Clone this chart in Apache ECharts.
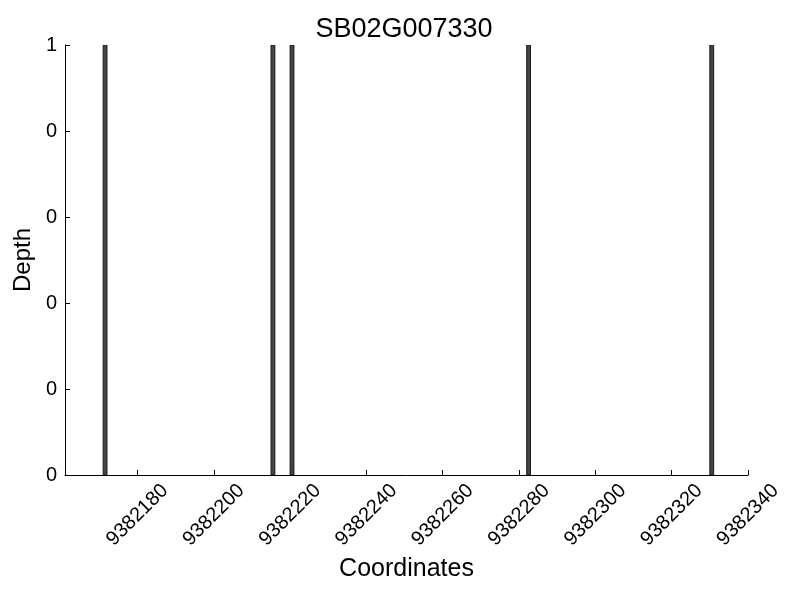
<!DOCTYPE html>
<html>
<head>
<meta charset="utf-8">
<script src="https://cdn.jsdelivr.net/npm/echarts@6/dist/echarts.min.js"></script>
<style>html,body{margin:0;padding:0;background:#fff}#c{width:800px;height:600px}</style>
</head>
<body>
<div id="c"></div>
<script>
var chartTitle = 'SB02G007330';
var positions = [9382171, 9382215, 9382220, 9382282, 9382330];
var depths = [1, 1, 1, 1, 1];
var xTicks = [9382180, 9382200, 9382220, 9382240, 9382260, 9382280, 9382300, 9382320, 9382340];
var yTicks = [0, 0.2, 0.4, 0.6, 0.8, 1];
var yTickLabels = ['0', '0', '0', '0', '0', '1'];

var FONT = '"Liberation Sans", Arial, sans-serif';
var chart = echarts.init(document.getElementById('c'), null, {renderer: 'canvas'});
var data = positions.map(function (p, i) { return [p, depths[i]]; });

chart.setOption({
  animation: false,
  backgroundColor: '#fff',
  title: {
    text: chartTitle, left: 399, top: 11, textAlign: 'center',
    textStyle: {fontFamily: FONT, fontSize: 27, fontWeight: 'normal', color: '#000'}
  },
  grid: {left: 65, right: 52, top: 45, bottom: 125, containLabel: false},
  xAxis: {
    type: 'value', min: 9382161, max: 9382340,
    name: 'Coordinates', nameLocation: 'middle', nameGap: 82,
    nameTextStyle: {fontFamily: FONT, fontSize: 25, color: '#000'},
    axisLine: {show: true, lineStyle: {color: '#000', width: 1}},
    axisTick: {show: true, inside: true, length: 5, lineStyle: {color: '#000'}, customValues: xTicks},
    axisLabel: {
      customValues: xTicks, rotate: 45, margin: 40, align: 'center', verticalAlign: 'middle',
      fontFamily: FONT, fontSize: 20, color: '#000',
      formatter: function (v) { return String(v); }
    },
    splitLine: {show: false}
  },
  yAxis: {
    type: 'value', min: 0, max: 1, interval: 0.2,
    name: 'Depth', nameLocation: 'middle', nameGap: 24, nameRotate: 90,
    nameTextStyle: {fontFamily: FONT, fontSize: 24, color: '#000'},
    axisLine: {show: true, lineStyle: {color: '#000', width: 1}},
    axisTick: {show: true, inside: true, length: 5, lineStyle: {color: '#000'}},
    axisLabel: {
      fontFamily: FONT, fontSize: 20, color: '#000', margin: 8,
      formatter: function (v) {
        for (var i = 0; i < yTicks.length; i++) if (Math.abs(yTicks[i] - v) < 1e-9) return yTickLabels[i];
        return '';
      }
    },
    splitLine: {show: false}
  },
  series: [{
    type: 'custom',
    data: data,
    clip: true,
    renderItem: function (params, api) {
      var x0 = api.value(0), y = api.value(1);
      var p0 = api.coord([x0, y]);
      var p1 = api.coord([x0 + 1, 0]);
      return {
        type: 'rect',
        shape: {x: p0[0], y: p0[1], width: p1[0] - p0[0], height: p1[1] - p0[1]},
        style: {fill: '#444444', stroke: '#1a1a1a', lineWidth: 1}
      };
    }
  }]
});
</script>
</body>
</html>
